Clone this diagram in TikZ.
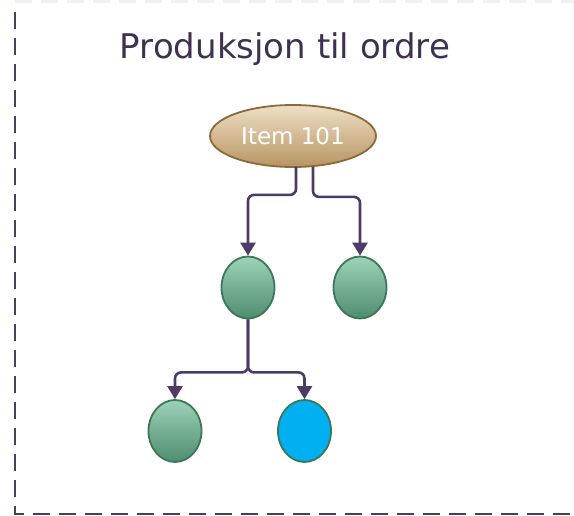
\documentclass[tikz,border=0pt]{standalone}
\usepackage{fontspec}
\setmainfont{DejaVu Sans}
\usetikzlibrary{shapes.geometric,arrows.meta,calc}
\definecolor{titlec}{HTML}{3F3151}
\definecolor{linec}{HTML}{4B3B66}
\definecolor{borderc}{HTML}{4A3F5C}
\definecolor{tantop}{HTML}{EEDFC4}
\definecolor{tanbot}{HTML}{B89463}
\definecolor{tanedge}{HTML}{8C6A3C}
\definecolor{greentop}{HTML}{9CD2B8}
\definecolor{greenbot}{HTML}{4F8D6F}
\definecolor{greenedge}{HTML}{3C7759}
\definecolor{bluefill}{HTML}{00B0F0}
\tikzset{
  itemnode/.style={ellipse, draw=tanedge, line width=1.8pt, top color=tantop, bottom color=tanbot,
    minimum width=166pt, minimum height=62pt, inner sep=0pt, text=white, font=\fontsize{23}{26}\selectfont},
  gnode/.style={ellipse, draw=greenedge, line width=1.8pt, top color=greentop, bottom color=greenbot,
    minimum width=53pt, minimum height=62pt, inner sep=0pt},
  bnode/.style={ellipse, draw=greenedge, line width=1.8pt, fill=bluefill,
    minimum width=53pt, minimum height=62pt, inner sep=0pt},
  conn/.style={draw=linec, line width=2.6pt, rounded corners=6pt, -{Triangle[width=15pt,length=13pt]}},
  framebox/.style={draw=borderc, line width=2.4pt, dash pattern=on 17pt off 9pt},
}
\begin{document}
\begin{tikzpicture}[x=1pt,y=-1pt]
\useasboundingbox (0,0) rectangle (574,516);
\draw[gray!12, line width=3pt, dash pattern=on 17pt off 9pt] (15,2) -- (574,2);
\draw[framebox] (15,12) -- (15,514) -- (580,514);
\node[text=titlec, font=\fontsize{34}{38}\selectfont, anchor=base] (title) at (285,59) {Produksjon til ordre};
\node[itemnode] (item) at (293,136) {Item 101};
\node[gnode] (m1) at (248,287.5) {};
\node[gnode] (m2) at (360,287.5) {};
\node[gnode] (b1) at (175,431) {};
\node[bnode] (b2) at (304.5,431) {};
\coordinate (j1) at ($(item.south)+(3,27)$);
\coordinate (j2) at ($(item.south)+(20,29)$);
\coordinate (j3) at ($(m1.south)+(0,53)$);
\draw[conn] ($(item.south)+(3,-1)$) -- (j1) -| (m1.north);
\draw[conn] ($(item.south)+(20,-1)$) -- (j2) -| (m2.north);
\draw[conn] (m1.south) -- (j3) -| (b1.north);
\draw[conn] (m1.south) -- (j3) -| (b2.north);
\end{tikzpicture}
\end{document}
